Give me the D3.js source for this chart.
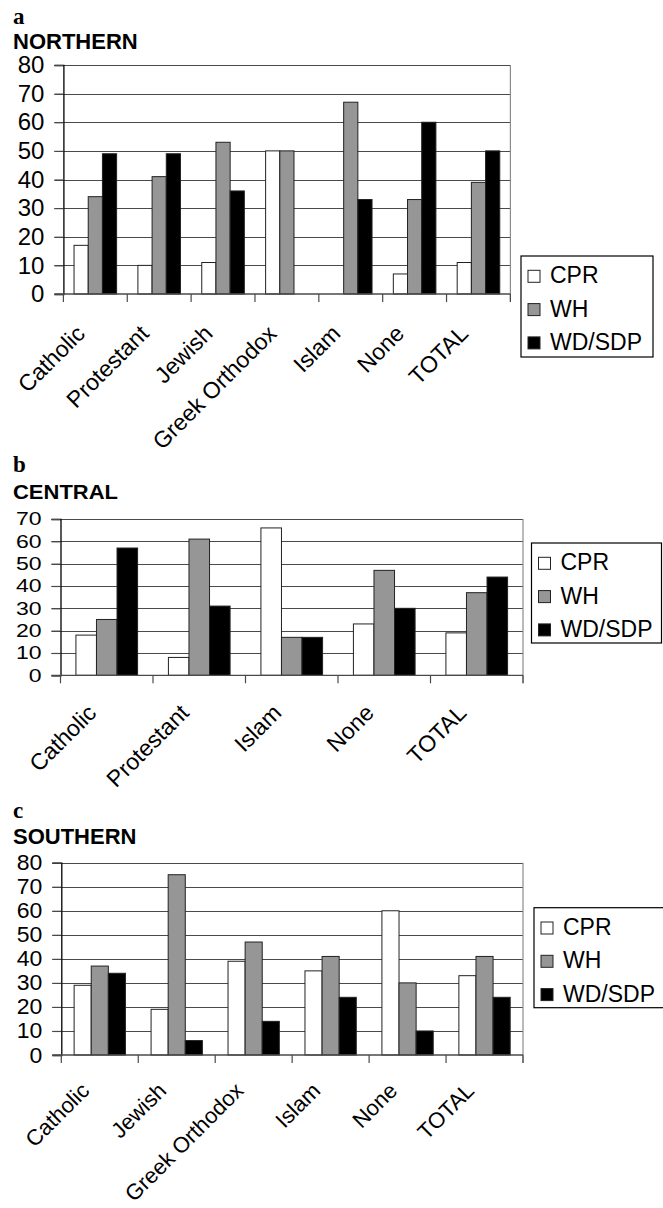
<!DOCTYPE html>
<html>
<head>
<meta charset="utf-8">
<script src="https://cdn.jsdelivr.net/npm/d3@7"></script>
<style>
  body { margin: 0; background: #fff; }
  svg { display: block; }
  text { font-family: "Liberation Sans", Arial, sans-serif; fill: #000; }
</style>
</head>
<body>
<div id="container"></div>
<script>
// series names (legend order)
var series = ["CPR", "WH", "WD/SDP"];
var seriesColors = ["#ffffff", "#969696", "#000000"];

// a - NORTHERN
var northCats = ["Catholic", "Protestant", "Jewish", "Greek Orthodox", "Islam", "None", "TOTAL"];
var northCPR = [17, 10, 11, 50, 0, 7, 11];
var northWH  = [34, 41, 53, 50, 67, 33, 39];
var northWD  = [49, 49, 36, 0, 33, 60, 50];
var northTicks = [0, 10, 20, 30, 40, 50, 60, 70, 80];

// b - CENTRAL
var centralCats = ["Catholic", "Protestant", "Islam", "None", "TOTAL"];
var centralCPR = [18, 8, 66, 23, 19];
var centralWH  = [25, 61, 17, 47, 37];
var centralWD  = [57, 31, 17, 30, 44];
var centralTicks = [0, 10, 20, 30, 40, 50, 60, 70];

// c - SOUTHERN
var southCats = ["Catholic", "Jewish", "Greek Orthodox", "Islam", "None", "TOTAL"];
var southCPR = [29, 19, 39, 35, 60, 33];
var southWH  = [37, 75, 47, 41, 30, 41];
var southWD  = [34, 6, 14, 24, 10, 24];
var southTicks = [0, 10, 20, 30, 40, 50, 60, 70, 80];

// layout per panel (tickSy = vertical squash of tick labels, as in the scan)
var panels = [
  { letter: "a", title: "NORTHERN", cats: northCats, vals: [northCPR, northWH, northWD], ticks: northTicks,
    letterY: 23.5, titleY: 48.5, titleSy: 1, left: 63.4, right: 510.4, top: 65, bottom: 294,
    tickFs: 24, tickSy: 1, catFs: 23, catDy: 41,
    legend: { x: 521, y: 256, w: 132, h: 101 } },
  { letter: "b", title: "CENTRAL", cats: centralCats, vals: [centralCPR, centralWH, centralWD], ticks: centralTicks,
    letterY: 471.5, titleY: 498.5, titleSy: 0.9, left: 60.5, right: 523, top: 519, bottom: 675.3,
    tickFs: 23, tickSy: 0.78, catFs: 23, catDy: 39,
    legend: { x: 531.5, y: 543, w: 130, h: 100 } },
  { letter: "c", title: "SOUTHERN", cats: southCats, vals: [southCPR, southWH, southWD], ticks: southTicks,
    letterY: 818, titleY: 843.5, titleSy: 1, left: 61.3, right: 523, top: 862.7, bottom: 1055,
    tickFs: 23, tickSy: 0.95, catFs: 22, catDy: 37,
    legend: { x: 534, y: 907.7, w: 130, h: 100 } }
];

var svg = d3.select('#container')
  .append('svg')
  .attr('width', 663)
  .attr('height', 1208);

panels.forEach(function(p) {
  var g = svg.append('g');

  g.append('text')
    .attr('x', 13).attr('y', p.letterY)
    .style('font-family', '"Liberation Serif", "Times New Roman", serif')
    .style('font-weight', 'bold').style('font-size', '23px')
    .text(p.letter);
  g.append('text')
    .attr('transform', 'translate(13,' + p.titleY + ') scale(1,' + p.titleSy + ')')
    .style('font-weight', 'bold').style('font-size', '22px')
    .text(p.title);

  var yMax = d3.max(p.ticks);
  var y = d3.scaleLinear().domain([0, yMax]).range([p.bottom, p.top]);
  var x0 = d3.scaleBand().domain(p.cats).range([p.left, p.right]).padding(0);
  var bw = x0.bandwidth();
  // excel gap width 150%
  var x1 = d3.scaleBand().domain(series).range([bw / 6, bw - bw / 6]).padding(0);

  // gridlines (extend left as tick marks)
  g.selectAll('line.grid').data(p.ticks.filter(function(t) { return t > 0; }))
    .enter().append('line')
    .attr('x1', p.left - 9).attr('x2', p.right)
    .attr('y1', function(d) { return Math.round(y(d)) + 0.5; })
    .attr('y2', function(d) { return Math.round(y(d)) + 0.5; })
    .attr('stroke', '#4a4a4a').attr('stroke-width', 1.2);

  // right border of plot area
  g.append('line')
    .attr('x1', p.right).attr('x2', p.right)
    .attr('y1', y(yMax)).attr('y2', p.bottom + 8)
    .attr('stroke', '#8c8c8c').attr('stroke-width', 1.2);

  // bars
  var rows = p.cats.map(function(c, i) {
    return series.map(function(s, j) { return { cat: c, s: s, j: j, v: p.vals[j][i] }; });
  });
  var grp = g.selectAll('g.cat').data(rows).enter().append('g')
    .attr('transform', function(d) { return 'translate(' + x0(d[0].cat) + ',0)'; });
  grp.selectAll('rect').data(function(d) { return d.filter(function(e) { return e.v > 0; }); })
    .enter().append('rect')
    .attr('x', function(d) { return x1(d.s); })
    .attr('y', function(d) { return y(d.v); })
    .attr('width', x1.bandwidth())
    .attr('height', function(d) { return p.bottom - y(d.v); })
    .attr('fill', function(d) { return seriesColors[d.j]; })
    .attr('stroke', '#222').attr('stroke-width', 1);

  // y axis
  var yAxis = d3.axisLeft(y).tickValues(p.ticks).tickSize(9).tickPadding(10).tickFormat(d3.format('d'));
  var ya = g.append('g').attr('transform', 'translate(' + p.left + ',0)').call(yAxis);
  ya.select('.domain').attr('stroke', '#000').attr('stroke-width', 1.3);
  ya.selectAll('.tick line').attr('stroke', '#4a4a4a').attr('stroke-width', 1.2);
  ya.selectAll('.tick text')
    .style('font-family', '"Liberation Sans", Arial, sans-serif')
    .style('font-size', p.tickFs + 'px').attr('fill', '#000')
    .attr('transform', 'scale(1,' + p.tickSy + ')');

  // x axis line and tick marks at band boundaries
  g.append('line')
    .attr('x1', p.left - 9).attr('x2', p.right)
    .attr('y1', p.bottom).attr('y2', p.bottom)
    .attr('stroke', '#4a4a4a').attr('stroke-width', 1.3);
  var bounds = p.cats.map(function(c) { return x0(c); }).concat([p.right]);
  g.selectAll('line.xt').data(bounds).enter().append('line')
    .attr('x1', function(d) { return d; }).attr('x2', function(d) { return d; })
    .attr('y1', p.bottom).attr('y2', p.bottom + 8)
    .attr('stroke', '#4a4a4a').attr('stroke-width', 1.2);

  // category labels rotated -45
  g.selectAll('text.cat').data(p.cats).enter().append('text')
    .attr('text-anchor', 'end')
    .style('font-size', p.catFs + 'px')
    .attr('transform', function(d) {
      return 'translate(' + (x0(d) + bw / 2 - 9) + ',' + (p.bottom + p.catDy) + ') rotate(-45)';
    })
    .text(function(d) { return d; });

  // legend
  var L = p.legend;
  g.append('rect')
    .attr('x', L.x).attr('y', L.y).attr('width', L.w).attr('height', L.h)
    .attr('fill', '#fff').attr('stroke', '#000').attr('stroke-width', 1.2);
  var items = g.selectAll('g.leg').data(series).enter().append('g')
    .attr('transform', function(d, i) { return 'translate(' + L.x + ',' + (L.y + 27.3 + i * 33.3) + ')'; });
  items.append('rect')
    .attr('x', 7).attr('y', -13).attr('width', 12).attr('height', 12)
    .attr('fill', function(d, i) { return seriesColors[i]; })
    .attr('stroke', '#222').attr('stroke-width', 1);
  items.append('text')
    .attr('x', 29).attr('y', 0)
    .style('font-size', '23px')
    .text(function(d) { return d; });
});
</script>
</body>
</html>
